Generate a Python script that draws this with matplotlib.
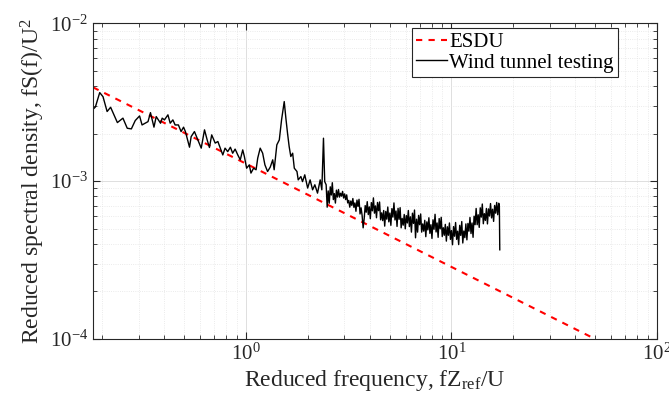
import numpy as np
import matplotlib
matplotlib.use('Agg')
import matplotlib.pyplot as plt

plt.rcParams['font.family'] = ['Liberation Serif', 'DejaVu Serif']
plt.rcParams['mathtext.fontset'] = 'custom'
plt.rcParams['mathtext.rm'] = 'Liberation Serif'
plt.rcParams['mathtext.it'] = 'Liberation Serif:italic'

# ESDU spectrum
esdu_f = [0.18, 1.0, 10.0, 50.0]
esdu_s = [3.93e-3, 1.29e-3, 2.86e-4, 1.0e-4]

# wind tunnel spectrum, read as log10 values off the picture
# low frequency part (up to the second peak)
wt_logf_lo = [-0.739, -0.733, -0.712, -0.696, -0.676, -0.659, -0.626, -0.599, -0.578, -0.558,
              -0.539, -0.518, -0.506, -0.477, -0.465, -0.448, -0.437, -0.416, -0.408, -0.397,
              -0.380, -0.369, -0.356, -0.345, -0.329, -0.316, -0.304, -0.295, -0.275, -0.267,
              -0.251, -0.238, -0.218, -0.202, -0.189, -0.178, -0.167, -0.150, -0.137, -0.125,
              -0.113, -0.102, -0.089, -0.076, -0.065, -0.053, -0.040, -0.028, -0.016, -0.008,
              0.003, 0.016, 0.024, 0.037, 0.049, 0.057, 0.069, 0.081, 0.092, 0.105,
              0.118, 0.130, 0.137, 0.150, 0.162, 0.173, 0.186, 0.194, 0.202, 0.210,
              0.218, 0.227, 0.235, 0.248, 0.254, 0.267, 0.275, 0.286, 0.300, 0.312,
              0.324, 0.335, 0.348, 0.361, 0.369, 0.377, 0.383]
wt_logs_lo = [-2.538, -2.530, -2.439, -2.465, -2.559, -2.532, -2.629, -2.601, -2.665, -2.669,
              -2.616, -2.587, -2.644, -2.623, -2.566, -2.658, -2.591, -2.633, -2.601, -2.612,
              -2.580, -2.633, -2.612, -2.644, -2.644, -2.686, -2.658, -2.686, -2.785, -2.718,
              -2.686, -2.728, -2.791, -2.675, -2.739, -2.787, -2.707, -2.759, -2.749, -2.791,
              -2.834, -2.791, -2.813, -2.785, -2.823, -2.797, -2.834, -2.865, -2.802, -2.844,
              -2.918, -2.897, -2.949, -2.918, -2.928, -2.854, -2.791, -2.823, -2.897, -2.939,
              -2.911, -2.865, -2.928, -2.770, -2.739, -2.612, -2.496, -2.601, -2.696, -2.781,
              -2.844, -2.823, -2.918, -2.939, -2.992, -2.971, -3.003, -2.960, -3.044, -2.992,
              -3.055, -3.023, -3.076, -2.992, -3.055, -2.728, -3.003]

# high frequency part (dense noisy band)
wt_logf_hi = [0.390, 0.395, 0.400, 0.405, 0.410, 0.415, 0.420, 0.425, 0.430, 0.435,
              0.440, 0.445, 0.450, 0.455, 0.460, 0.465, 0.470, 0.475, 0.480, 0.485,
              0.490, 0.495, 0.500, 0.505, 0.510, 0.515, 0.520, 0.525, 0.530, 0.535,
              0.540, 0.545, 0.550, 0.555, 0.560, 0.565, 0.570, 0.575, 0.580, 0.585,
              0.590, 0.595, 0.600, 0.605, 0.610, 0.615, 0.620, 0.625, 0.630, 0.635,
              0.640, 0.645, 0.650, 0.655, 0.660, 0.665, 0.670, 0.675, 0.680, 0.685,
              0.690, 0.695, 0.700, 0.705, 0.710, 0.715, 0.720, 0.725, 0.730, 0.735,
              0.740, 0.745, 0.750, 0.755, 0.760, 0.765, 0.770, 0.775, 0.780, 0.785,
              0.790, 0.795, 0.800, 0.805, 0.810, 0.815, 0.820, 0.825, 0.830, 0.835,
              0.840, 0.845, 0.850, 0.855, 0.860, 0.865, 0.870, 0.875, 0.880, 0.885,
              0.890, 0.895, 0.900, 0.905, 0.910, 0.915, 0.920, 0.925, 0.930, 0.935,
              0.940, 0.945, 0.950, 0.955, 0.960, 0.965, 0.970, 0.975, 0.980, 0.985,
              0.990, 0.995, 1.000, 1.005, 1.010, 1.015, 1.020, 1.025, 1.030, 1.035,
              1.040, 1.045, 1.050, 1.055, 1.060, 1.065, 1.070, 1.075, 1.080, 1.085,
              1.090, 1.095, 1.100, 1.105, 1.110, 1.115, 1.120, 1.125, 1.130, 1.135,
              1.140, 1.145, 1.150, 1.155, 1.160, 1.165, 1.170, 1.175, 1.180, 1.185,
              1.190, 1.195, 1.200, 1.205, 1.210, 1.215, 1.220, 1.225, 1.230, 1.233,
              1.235]
wt_logs_hi = [-3.023, -3.165, -3.062, -3.140, -3.036, -3.088, -3.010, -3.117, -3.079, -3.139,
              -3.057, -3.101, -3.053, -3.101, -3.077, -3.095, -3.065, -3.107, -3.081, -3.117,
              -3.087, -3.138, -3.122, -3.165, -3.126, -3.154, -3.110, -3.166, -3.138, -3.191,
              -3.120, -3.160, -3.115, -3.208, -3.169, -3.217, -3.296, -3.239, -3.155, -3.197,
              -3.130, -3.212, -3.163, -3.238, -3.136, -3.188, -3.106, -3.203, -3.157, -3.232,
              -3.135, -3.187, -3.132, -3.245, -3.201, -3.250, -3.186, -3.285, -3.192, -3.241,
              -3.164, -3.258, -3.202, -3.280, -3.174, -3.228, -3.138, -3.246, -3.189, -3.287,
              -3.172, -3.242, -3.168, -3.296, -3.236, -3.279, -3.211, -3.302, -3.218, -3.265,
              -3.186, -3.288, -3.226, -3.323, -3.203, -3.268, -3.183, -3.359, -3.241, -3.323,
              -3.217, -3.276, -3.208, -3.323, -3.271, -3.317, -3.248, -3.352, -3.258, -3.309,
              -3.232, -3.331, -3.276, -3.363, -3.245, -3.305, -3.210, -3.322, -3.265, -3.356,
              -3.237, -3.302, -3.229, -3.351, -3.295, -3.343, -3.274, -3.380, -3.289, -3.343,
              -3.265, -3.369, -3.313, -3.403, -3.288, -3.349, -3.262, -3.369, -3.317, -3.402,
              -3.280, -3.344, -3.256, -3.392, -3.316, -3.358, -3.271, -3.372, -3.268, -3.317,
              -3.230, -3.332, -3.265, -3.356, -3.222, -3.276, -3.173, -3.276, -3.213, -3.293,
              -3.169, -3.228, -3.145, -3.270, -3.206, -3.249, -3.173, -3.271, -3.176, -3.221,
              -3.142, -3.233, -3.178, -3.255, -3.154, -3.203, -3.135, -3.213, -3.140, -3.160,
              -3.435]

wt_f = 10 ** np.array(wt_logf_lo + wt_logf_hi)
wt_s = 10 ** np.array(wt_logs_lo + wt_logs_hi)

axcol = '#262626'

fig = plt.figure(figsize=(6.69, 4.05), dpi=100)
ax = fig.add_axes([0.139, 0.163, 0.843, 0.7795])

ax.plot(esdu_f, esdu_s, color='red', linestyle=(0, (3, 3)), linewidth=1.5, label='ESDU')
ax.plot(wt_f, wt_s, color='black', linewidth=1.0, label='Wind tunnel testing')

ax.set_xscale('log')
ax.set_yscale('log')
ax.set_xlim(0.18, 100)
ax.set_ylim(1e-4, 1e-2)

ax.grid(True, which='major', color='#dedede', linewidth=0.7, linestyle='-')
ax.grid(True, which='minor', color='#e4e4e4', linewidth=0.6, linestyle=':')
ax.set_axisbelow(True)

ax.tick_params(which='both', direction='in', top=True, right=True, colors=axcol, labelsize=15)
ax.tick_params(which='major', length=5, width=0.8)
ax.tick_params(which='minor', length=3, width=0.6)
for sp in ax.spines.values():
    sp.set_color(axcol)
    sp.set_linewidth(0.8)

ax.set_xlabel('Reduced frequency, fZ$_{\\mathregular{ref}}$/U', fontsize=17, color=axcol, labelpad=2)
ax.set_ylabel('Reduced spectral density, fS(f)/U$^{\\mathregular{2}}$', fontsize=17, color=axcol, labelpad=2)

leg = ax.legend(loc='upper right', bbox_to_anchor=(0.931, 0.984), fontsize=15, handlelength=1.5,
                handletextpad=0.1, borderpad=0.2, labelspacing=0.05, fancybox=False,
                framealpha=1, borderaxespad=0)
leg.get_frame().set_edgecolor(axcol)
leg.get_frame().set_linewidth(0.8)

fig.savefig('out.png', dpi=100)
